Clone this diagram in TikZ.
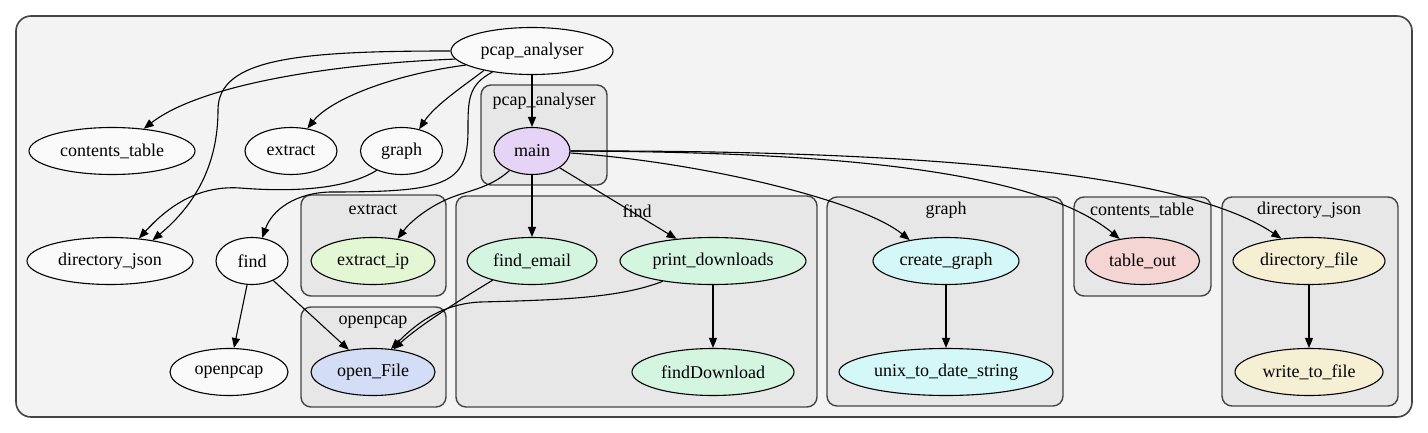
\documentclass[tikz,border=0pt]{standalone}
\usepackage{fontspec}
\setmainfont{Liberation Serif}
\usetikzlibrary{shapes.geometric,arrows.meta}
\definecolor{outerfill}{HTML}{F3F3F3}
\definecolor{clusterfill}{HTML}{E7E7E7}
\definecolor{frameline}{HTML}{444444}
\definecolor{plainfill}{HTML}{FAFAFA}
\definecolor{mainfill}{HTML}{E5D4F5}
\definecolor{extractfill}{HTML}{E3F7D4}
\definecolor{openfill}{HTML}{D3DDF5}
\definecolor{findfill}{HTML}{D4F5DF}
\definecolor{graphfill}{HTML}{D4F7F7}
\definecolor{tablefill}{HTML}{F5D4D4}
\definecolor{dirfill}{HTML}{F5EFD4}
\tikzset{
  mod/.style={ellipse, draw, line width=0.55pt, fill=#1, inner sep=0pt, minimum height=23.5pt},
  mod/.default=plainfill,
  cluster/.style={draw=frameline, fill=clusterfill, rounded corners=5pt, line width=0.7pt},
  edge/.style={-{Triangle[length=5pt,width=4pt]}, line width=0.55pt},
}
\begin{document}
\begin{tikzpicture}[x=0.5pt, y=-0.5pt, font=\rmfamily\fontsize{9}{11}\selectfont]
\useasboundingbox (0,0) rectangle (1428,433);
% frames
\draw[draw=frameline, fill=outerfill, rounded corners=7.5pt, line width=0.8pt] (16,16) rectangle (1412,417);
\draw[cluster] (481,85) rectangle (607,185);
\draw[cluster] (301,195) rectangle (446,296);
\draw[cluster] (301,307) rectangle (446,407);
\draw[cluster] (456,196) rectangle (817,407);
\draw[cluster] (827,197) rectangle (1063,406);
\draw[cluster] (1074,197) rectangle (1211,296);
\draw[cluster] (1222,197) rectangle (1398,406);
\node (lbl-pcap) at (544,101) {pcap\_analyser};
\node (lbl-extract) at (373,210) {extract};
\node (lbl-openpcap) at (373,322) {openpcap};
\node (lbl-find) at (637,211) {find};
\node (lbl-graph) at (946,210) {graph};
\node (lbl-table) at (1142,210) {contents\_table};
\node (lbl-dir) at (1309,210) {directory\_json};

% modules
\node[mod, minimum width=81pt] (pcap) at (532,51) {pcap\_analyser};
\node[mod, minimum width=83pt] (ctable) at (112,151) {contents\_table};
\node[mod, minimum width=46pt] (extract) at (291,151) {extract};
\node[mod, minimum width=41pt] (graph) at (401.5,151) {graph};
\node[mod, minimum width=83pt] (dirjson) at (110,261) {directory\_json};
\node[mod, minimum width=36pt] (find) at (252,261) {find};
\node[mod, minimum width=59pt] (openpcap) at (229,372) {openpcap};

% functions
\node[mod=mainfill, minimum width=38pt] (main) at (532,151) {main};
\node[mod=extractfill, minimum width=62pt] (extractip) at (373,261) {extract\_ip};
\node[mod=openfill, minimum width=62pt] (openfile) at (373,372) {open\_File};
\node[mod=findfill, minimum width=65pt] (findemail) at (532,261) {find\_email};
\node[mod=findfill, minimum width=93pt] (printdl) at (713,261) {print\_downloads};
\node[mod=findfill, minimum width=81pt] (finddl) at (713,372) {findDownload};
\node[mod=graphfill, minimum width=73pt] (creategraph) at (946,261) {create\_graph};
\node[mod=graphfill, minimum width=107pt] (unixdate) at (946,372) {unix\_to\_date\_string};
\node[mod=tablefill, minimum width=57pt] (tableout) at (1142.5,261) {table\_out};
\node[mod=dirfill, minimum width=76pt] (dirfile) at (1309,261) {directory\_file};
\node[mod=dirfill, minimum width=74pt] (writefile) at (1309,372) {write\_to\_file};

% imports
\draw[edge] (pcap) -- (main);
\draw[edge] (pcap.186) .. controls (330,64) and (200,85) .. (ctable.35);
\draw[edge] (pcap.west) .. controls (300,51) and (218,58) .. (218,110) .. controls (218,165) and (195,205) .. (dirjson.26);
\draw[edge] (pcap.192) .. controls (390,75) and (330,100) .. (extract.54);
\draw[edge] (pcap.202) .. controls (465,85) and (435,105) .. (graph.51);
\draw[edge] (pcap.208) .. controls (468,85) and (468,100) .. (468,130) .. controls (468,185) and (445,192) .. (330,192) .. controls (295,193) and (272,210) .. (find.66);
\draw[edge] (graph.218) .. controls (345,190) and (290,192) .. (240,188) .. controls (195,185) and (165,210) .. (dirjson.38);
\draw[edge] (find) -- (openpcap);
\draw[edge] (find) -- (openfile);

% calls
\draw[edge] (main.221) .. controls (490,188) and (470,190) .. (450,198) .. controls (428,207) and (410,222) .. (extractip.42);
\draw[edge] (main) -- (findemail);
\draw[edge] (main) -- (printdl);
\draw[edge] (main.357) .. controls (700,162) and (860,200) .. (creategraph.150);
\draw[edge] (main.east) .. controls (800,152) and (1030,165) .. (tableout.136);
\draw[edge] (main.east) .. controls (900,150) and (1180,170) .. (dirfile.141);
\draw[edge] (findemail.206) .. controls (460,300) and (420,325) .. (openfile.48);
\draw[edge] (printdl.202) .. controls (620,298) and (560,300) .. (480,302) .. controls (440,304) and (415,325) .. (openfile.52);
\draw[edge] (printdl) -- (finddl);
\draw[edge] (creategraph) -- (unixdate);
\draw[edge] (dirfile) -- (writefile);
\end{tikzpicture}
\end{document}
